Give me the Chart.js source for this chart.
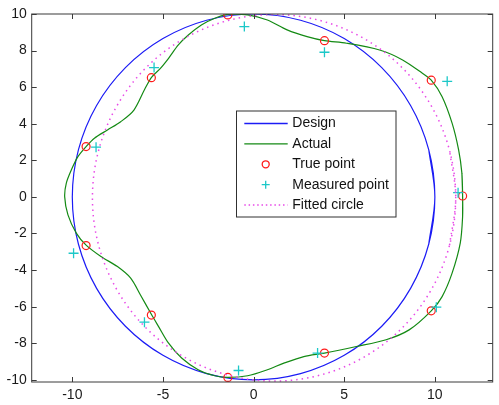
<!DOCTYPE html>
<html>
<head>
<meta charset="utf-8">
<script src="https://cdn.jsdelivr.net/npm/chart.js@4"></script>
<style>
  html, body { margin: 0; padding: 0; background: #fff; }
  canvas { display: block; }
</style>
</head>
<body>
<canvas id="chart" width="499" height="405"></canvas>
<script>
// values
const xTicks = [-10, -5, 0, 5, 10];
const yTicks = [-10, -8, -6, -4, -2, 0, 2, 4, 6, 8, 10];

// design circle, r = 10 around the origin (start/end overlap to close smoothly)
const designX = [9.66, 10, 9.66, 8.66, 7.07, 5, 2.59, 0, -2.59, -5, -7.07, -8.66, -9.66, -10, -9.66, -8.66, -7.07, -5, -2.59, 0, 2.59, 5, 7.07, 8.66, 9.66, 10, 9.66];
const designY = [-2.59, 0, 2.59, 5, 7.07, 8.66, 9.66, 10, 9.66, 8.66, 7.07, 5, 2.59, 0, -2.59, -5, -7.07, -8.66, -9.66, -10, -9.66, -8.66, -7.07, -5, -2.59, 0, 2.59];

// actual profile
const actualX = [11.53, 11.53, 11.49, 11.31, 10.95, 10.40, 9.80, 9.31, 8.22, 6.95, 5.13, 3.91, 2.95, 1.85, 0.76, -0.33, -1.42, -2.14, -2.88, -3.60, -4.15, -4.69, -5.14, -5.62, -6.00, -6.60, -7.33, -8.06, -8.78, -9.24, -9.69, -10.05, -10.33, -10.42, -10.24, -9.78, -9.24, -8.42, -7.51, -6.78, -6.24, -5.64, -5.24, -4.69, -3.97, -3.06, -2.14, -1.42, -0.33, 0.76, 1.67, 2.77, 3.91, 5.67, 7.31, 8.58, 9.80, 10.40, 10.95, 11.40, 11.53, 11.53, 11.49];
const actualY = [-1.08, 0.05, 1.30, 2.57, 4.03, 5.48, 6.38, 6.76, 7.49, 8.03, 8.40, 8.54, 8.76, 9.13, 9.67, 9.95, 9.98, 9.77, 9.40, 8.85, 8.31, 7.58, 7.03, 6.55, 5.90, 4.75, 4.11, 3.66, 3.21, 2.75, 2.20, 1.48, 0.75, 0.0, -0.98, -1.98, -2.64, -3.26, -3.81, -4.44, -5.36, -6.42, -7.09, -8.00, -8.81, -9.45, -9.78, -9.87, -9.78, -9.45, -9.09, -8.73, -8.54, -8.18, -7.81, -7.27, -6.23, -5.45, -4.17, -2.53, -1.08, 0.05, 1.30];

// true points (red circles)
const trueX = [11.53, 9.80, 3.91, -1.42, -5.64, -9.24, -9.24, -5.64, -1.42, 3.91, 9.80];
const trueY = [0.05, 6.38, 8.54, 9.95, 6.52, 2.75, -2.66, -6.46, -9.87, -8.54, -6.23];

// measured points (cyan crosses)
const measX = [11.28, 10.68, 3.91, -0.51, -5.49, -8.69, -9.93, -6.02, -0.83, 3.53, 10.08];
const measY = [0.23, 6.32, 7.91, 9.31, 7.07, 2.72, -3.08, -6.85, -9.49, -8.54, -6.03];

// fitted circle, centre (1.13, -0.05), r = 10.02
const fitX = [10.81, 11.15, 10.81, 9.81, 8.22, 6.14, 3.72, 1.13, -1.46, -3.88, -5.96, -7.55, -8.55, -8.89, -8.55, -7.55, -5.96, -3.88, -1.46, 1.13, 3.72, 6.14, 8.22, 9.81, 10.81, 11.15, 10.81];
const fitY = [-2.64, -0.05, 2.54, 4.96, 7.04, 8.63, 9.63, 9.97, 9.63, 8.63, 7.04, 4.96, 2.54, -0.05, -2.64, -5.06, -7.14, -8.73, -9.73, -10.07, -9.73, -8.73, -7.14, -5.06, -2.64, -0.05, 2.54];

const legendLabels = ['Design', 'Actual', 'True point', 'Measured point', 'Fitted circle'];

const BLUE = '#1c1cf5';
const GREEN = '#148a14';
const RED = '#ff1a1a';
const CYAN = '#1cc8c8';
const MAGENTA = '#e84ae8';
const FONT = { family: '"Liberation Sans", Arial, Helvetica, sans-serif', size: 14 };

const pts = (xs, ys) => xs.map((x, i) => ({ x, y: ys[i] }));

// axes box, inner tick marks, legend
const framePlugin = {
  id: 'frame',
  afterDatasetsDraw(chart) {
    const { ctx, chartArea: a, scales } = chart;
    ctx.save();
    ctx.strokeStyle = '#3a3a3a';
    ctx.lineWidth = 1;
    ctx.strokeRect(a.left, a.top, a.right - a.left, a.bottom - a.top);

    ctx.beginPath();
    xTicks.forEach(v => {
      const px = Math.round(scales.x.getPixelForValue(v)) + 0.5;
      ctx.moveTo(px, a.bottom); ctx.lineTo(px, a.bottom - 5);
      ctx.moveTo(px, a.top); ctx.lineTo(px, a.top + 5);
    });
    yTicks.forEach(v => {
      const py = Math.round(scales.y.getPixelForValue(v)) + 0.5;
      ctx.moveTo(a.left, py); ctx.lineTo(a.left + 5, py);
      ctx.moveTo(a.right, py); ctx.lineTo(a.right - 5, py);
    });
    ctx.stroke();

    // legend
    const bx = 236, by = 110.5, bw = 159.5, bh = 106;
    ctx.fillStyle = '#fff';
    ctx.fillRect(bx, by, bw, bh);
    ctx.strokeStyle = '#303030';
    ctx.strokeRect(bx + 0.5, by + 0.5, bw, bh);

    const rows = [123.5, 143.9, 164.3, 184.7, 205.1];
    const lx0 = 244.3, lx1 = 287.7, mx = 265.7;
    ctx.font = `${FONT.size}px ${FONT.family}`;
    ctx.textBaseline = 'middle';
    ctx.fillStyle = '#111';
    legendLabels.forEach((t, i) => ctx.fillText(t, 292.3, rows[i]));

    ctx.lineWidth = 1.3;
    ctx.strokeStyle = BLUE;
    ctx.beginPath(); ctx.moveTo(lx0, rows[0]); ctx.lineTo(lx1, rows[0]); ctx.stroke();
    ctx.strokeStyle = GREEN;
    ctx.beginPath(); ctx.moveTo(lx0, rows[1]); ctx.lineTo(lx1, rows[1]); ctx.stroke();
    ctx.strokeStyle = RED;
    ctx.beginPath(); ctx.arc(mx, rows[2], 3.5, 0, Math.PI * 2); ctx.stroke();
    ctx.strokeStyle = CYAN;
    ctx.beginPath();
    ctx.moveTo(mx - 4, rows[3]); ctx.lineTo(mx + 4, rows[3]);
    ctx.moveTo(mx, rows[3] - 4); ctx.lineTo(mx, rows[3] + 4);
    ctx.stroke();
    ctx.strokeStyle = MAGENTA;
    ctx.lineWidth = 1.5;
    ctx.setLineDash([1.5, 2.8]);
    ctx.beginPath(); ctx.moveTo(lx0, rows[4]); ctx.lineTo(lx1, rows[4]); ctx.stroke();
    ctx.restore();
  }
};

new Chart(document.getElementById('chart'), {
  type: 'scatter',
  data: {
    datasets: [
      { label: 'Design', data: pts(designX, designY), showLine: true, borderColor: BLUE, borderWidth: 1.2, pointRadius: 0, tension: 0.34, order: 5 },
      { label: 'Actual', data: pts(actualX, actualY), showLine: true, borderColor: GREEN, borderWidth: 1.2, pointRadius: 0, tension: 0.3, order: 4 },
      { label: 'True point', data: pts(trueX, trueY), pointStyle: 'circle', pointRadius: 4, borderColor: RED, backgroundColor: 'rgba(0,0,0,0)', borderWidth: 1.2, order: 3 },
      { label: 'Measured point', data: pts(measX, measY), pointStyle: 'cross', pointRadius: 5, borderColor: CYAN, borderWidth: 1.3, order: 2 },
      { label: 'Fitted circle', data: pts(fitX, fitY), showLine: true, borderColor: MAGENTA, borderWidth: 1.5, borderDash: [1.5, 4], pointRadius: 0, tension: 0.34, order: 1 }
    ]
  },
  options: {
    responsive: false,
    animation: false,
    devicePixelRatio: 1,
    layout: { padding: { left: 0, right: 1.3, top: 14, bottom: 0 } },
    plugins: { legend: { display: false }, tooltip: { enabled: false } },
    scales: {
      x: {
        type: 'linear', min: -12.24, max: 13.19,
        grid: { display: false, drawTicks: false }, border: { display: false },
        ticks: { includeBounds: false, padding: 5, color: '#1a1a1a', font: FONT, callback: v => String(v) },
        afterBuildTicks: s => { s.ticks = xTicks.map(v => ({ value: v })); },
        afterFit: s => { s.height = 23; }
      },
      y: {
        type: 'linear', min: -10.12, max: 10,
        grid: { display: false, drawTicks: false }, border: { display: false },
        ticks: { includeBounds: false, padding: 5, color: '#1a1a1a', font: FONT, callback: v => String(v) },
        afterBuildTicks: s => { s.ticks = yTicks.map(v => ({ value: v })); },
        afterFit: s => { s.width = 31.7; }
      }
    }
  },
  plugins: [framePlugin]
});
</script>
</body>
</html>
